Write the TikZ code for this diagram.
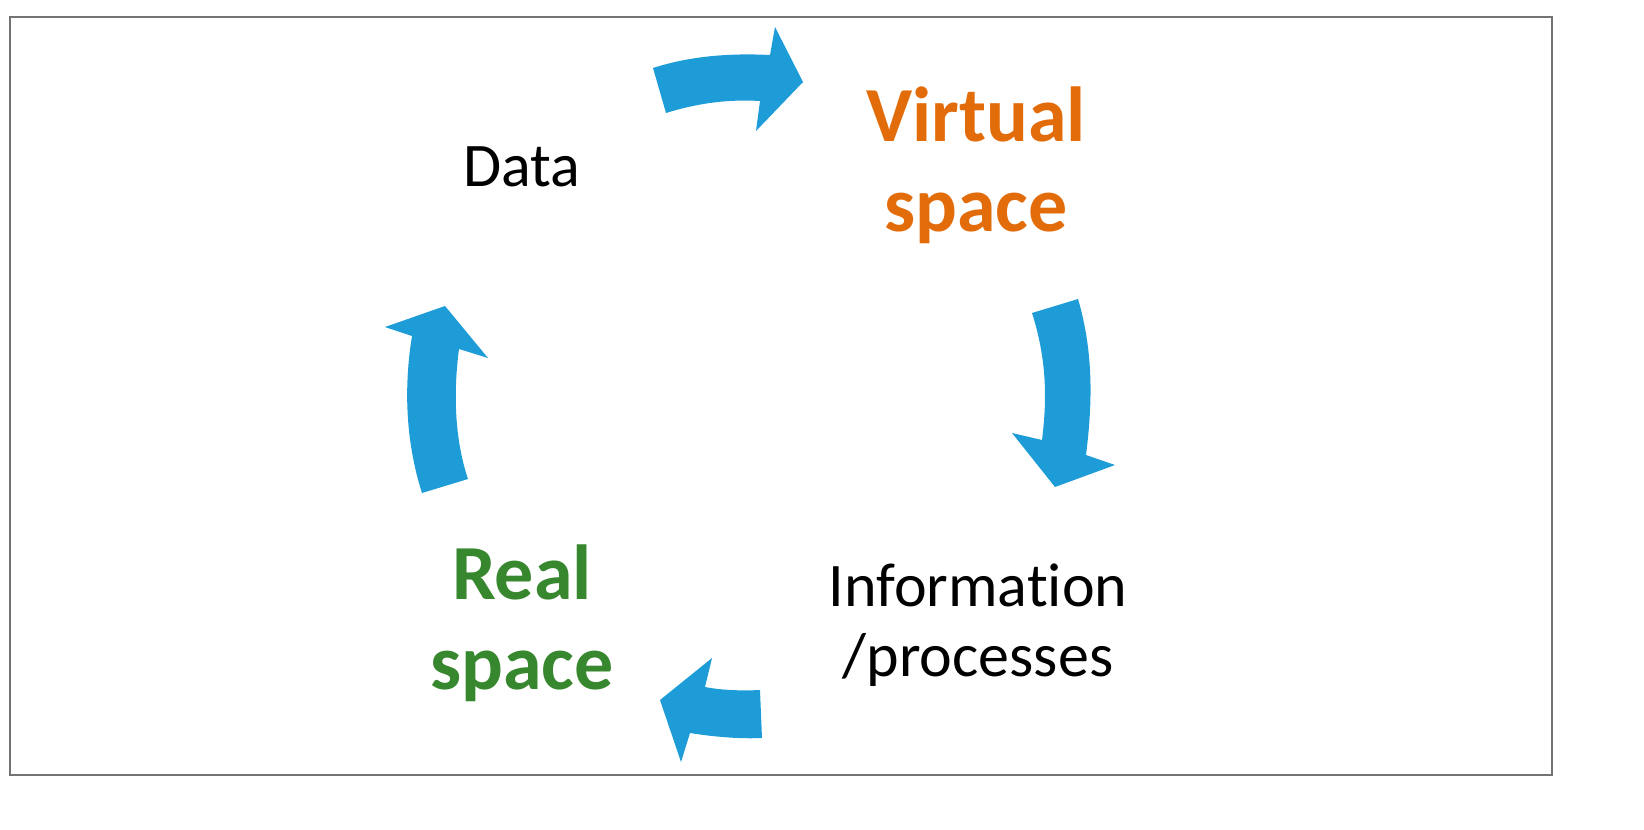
\documentclass[tikz,border=0pt]{standalone}
\usepackage{fontspec}
\setmainfont{Carlito}[Ligatures=NoCommon]
\definecolor{ablue}{HTML}{1E9CD7}
\definecolor{vorange}{HTML}{E36C0A}
\definecolor{rgreen}{HTML}{37872F}
\begin{document}
\begin{tikzpicture}[x=0.5pt,y=-0.5pt,
  arr/.style={fill=ablue,draw=none},
  lbl/.style={align=center,inner sep=0pt,font=\fontsize{31}{35}\selectfont},
  big/.style={align=center,inner sep=0pt,font=\fontsize{39}{45}\bfseries\selectfont}]
\draw[gray!90!black,line width=1.2pt] (10,17) rectangle (1552,775);
\fill[arr] (653,68) .. controls (690,56) and (730,53) .. (770,55) -- (775,27) -- (803,82) -- (756,131) -- (760,101) .. controls (725,99) and (695,104) .. (666,113) -- cycle;
\fill[arr] (1032,313) .. controls (1047,360) and (1047,400) .. (1042,440) -- (1012,433) -- (1055,487) -- (1115,465) -- (1086,455) .. controls (1093,400) and (1093,350) .. (1078,299) -- cycle;
\fill[arr] (760,690) .. controls (740,691) and (720,690) .. (705,687) -- (712,658) -- (660,700) -- (681,762) -- (690,733) .. controls (715,737) and (740,739) .. (762,738) -- cycle;
\fill[arr] (422,493) .. controls (405,440) and (404,385) .. (412,336) -- (385,327) -- (445,306) -- (488,358) -- (459,349) .. controls (453,395) and (455,440) .. (468,479) -- cycle;
\node[lbl] (data) at (522,167) {Data};
\node[big,text=vorange] (virt) at (976,165) {Virtual\\space};
\node[lbl] (info) at (978,625) {Information\\/processes};
\node[big,text=rgreen] (real) at (522,623) {Real\\space};
\pgfresetboundingbox
\useasboundingbox (0,0) rectangle (1644,830);
\end{tikzpicture}
\end{document}
